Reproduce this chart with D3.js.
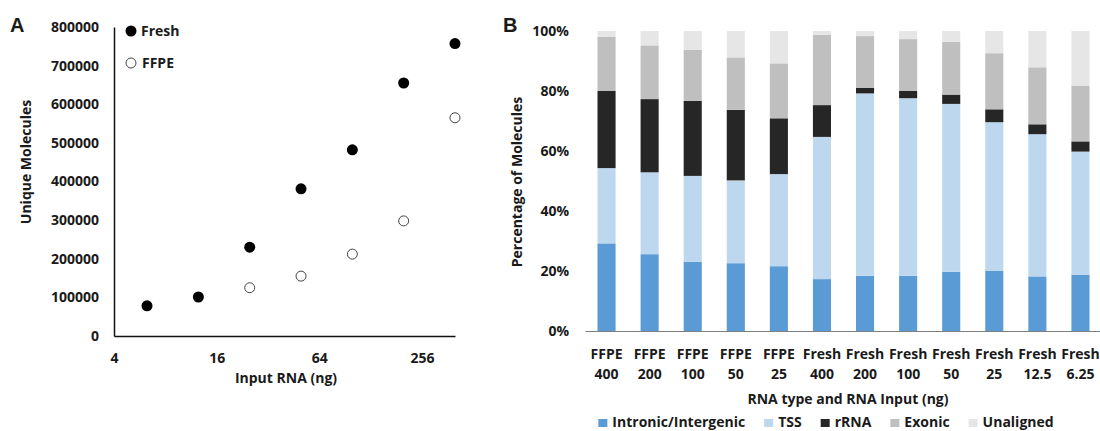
<!DOCTYPE html>
<html>
<head>
<meta charset="utf-8">
<script src="https://cdn.jsdelivr.net/npm/d3@7"></script>
<style>
  body { margin: 0; background: #fff; }
  svg text { font-family: "Open Sans", Lato, sans-serif; font-weight: bold; fill: #1a1a1a; }
</style>
</head>
<body>
<script>
// panel A - unique molecules vs input RNA
const freshInput = [6.25, 12.5, 25, 50, 100, 200, 400];
const freshMolecules = [78000, 101000, 230000, 381000, 482000, 655000, 757000];
const ffpeInput = [25, 50, 100, 200, 400];
const ffpeMolecules = [125000, 155000, 212000, 298000, 565000];
const xTicksA = [4, 16, 64, 256];
const yTicksA = [0, 100000, 200000, 300000, 400000, 500000, 600000, 700000, 800000];

// panel B - composition of molecules (%)
const sampleType = ["FFPE", "FFPE", "FFPE", "FFPE", "FFPE", "Fresh", "Fresh", "Fresh", "Fresh", "Fresh", "Fresh", "Fresh"];
const sampleInput = ["400", "200", "100", "50", "25", "400", "200", "100", "50", "25", "12.5", "6.25"];
const categories = ["Intronic/Intergenic", "TSS", "rRNA", "Exonic", "Unaligned"];
const intronic = [29.2, 25.6, 23.1, 22.6, 21.6, 17.3, 18.4, 18.4, 19.7, 20.0, 18.2, 18.8];
const tss = [25.1, 27.3, 28.6, 27.6, 30.7, 47.4, 60.8, 59.2, 56.0, 49.6, 47.4, 41.0];
const rrna = [25.7, 24.4, 25.0, 23.5, 18.6, 10.6, 1.9, 2.4, 3.1, 4.3, 3.3, 3.4];
const exonic = [18.0, 17.9, 17.0, 17.5, 18.3, 23.4, 17.2, 17.3, 17.6, 18.7, 19.0, 18.6];
const unaligned = [2.0, 4.8, 6.3, 8.8, 10.8, 1.3, 1.7, 2.7, 3.6, 7.4, 12.1, 18.2];
const yTicksB = [0, 20, 40, 60, 80, 100];
const colors = ["#5b9bd5", "#bdd7ee", "#262626", "#bfbfbf", "#e7e6e6"];

const svg = d3.select("body").append("svg")
  .attr("width", 1100).attr("height", 431);

// ---------- A ----------
const gA = svg.append("g");
const xA = d3.scaleLog().base(2).domain([4, 400]).range([114, 455]);
const yA = d3.scaleLinear().domain([0, 800000]).range([336, 27]);

const axLeftA = gA.append("g").attr("transform", "translate(114,0)")
  .call(d3.axisLeft(yA).tickValues(yTicksA).tickFormat(d3.format("d")).tickSize(0).tickSizeOuter(0).tickPadding(15));
const axBotA = gA.append("g").attr("transform", "translate(0,336)")
  .call(d3.axisBottom(xA).tickValues(xTicksA).tickFormat(d3.format("d")).tickSize(0).tickSizeOuter(0).tickPadding(17));
[axLeftA, axBotA].forEach(a => {
  a.select(".domain").attr("stroke", "#111").attr("stroke-width", 1.5);
  a.selectAll("text").attr("font-size", 14).attr("font-family", null);
});

gA.selectAll("circle.fresh").data(freshInput).enter().append("circle")
  .attr("class", "fresh")
  .attr("cx", d => xA(d))
  .attr("cy", (d, i) => yA(freshMolecules[i]))
  .attr("r", 5.5).attr("fill", "#000");
gA.selectAll("circle.ffpe").data(ffpeInput).enter().append("circle")
  .attr("class", "ffpe")
  .attr("cx", d => xA(d))
  .attr("cy", (d, i) => yA(ffpeMolecules[i]))
  .attr("r", 5).attr("fill", "#fff").attr("stroke", "#444").attr("stroke-width", 1);

// legend A
gA.append("circle").attr("cx", 131).attr("cy", 31).attr("r", 5.5).attr("fill", "#000");
gA.append("text").attr("x", 141).attr("y", 36).attr("font-size", 14).text("Fresh");
gA.append("circle").attr("cx", 131).attr("cy", 63).attr("r", 5).attr("fill", "#fff").attr("stroke", "#444");
gA.append("text").attr("x", 142).attr("y", 68).attr("font-size", 14).text("FFPE");

gA.append("text").attr("transform", "translate(31,162) rotate(-90)")
  .attr("text-anchor", "middle").attr("font-size", 14).text("Unique Molecules");
gA.append("text").attr("x", 286).attr("y", 383).attr("text-anchor", "middle")
  .attr("font-size", 14).text("Input RNA (ng)");
gA.append("text").attr("x", 10).attr("y", 32).attr("font-size", 20)
  .style("font-family", "'Liberation Sans', Arial, sans-serif").text("A");

// ---------- B ----------
const gB = svg.append("g");
const idx = d3.range(sampleInput.length);
const xB = d3.scaleBand().domain(idx).range([585, 1102]).paddingInner(0.58).paddingOuter(0.29);
const yB = d3.scaleLinear().domain([0, 100]).range([331, 31]);

const series = [intronic, tss, rrna, exonic, unaligned];
const rows = idx.map(i => {
  const r = { i };
  categories.forEach((c, k) => r[c] = series[k][i]);
  return r;
});
const stacked = d3.stack().keys(categories)(rows);

gB.selectAll("g.layer").data(stacked).enter().append("g")
  .attr("class", "layer")
  .attr("fill", (d, k) => colors[k])
  .selectAll("rect").data(d => d).enter().append("rect")
  .attr("x", d => xB(d.data.i))
  .attr("width", xB.bandwidth())
  .attr("y", d => yB(d[1]))
  .attr("height", d => yB(d[0]) - yB(d[1]));

const axLeftB = gB.append("g").attr("transform", "translate(585,0)")
  .call(d3.axisLeft(yB).tickValues(yTicksB).tickFormat(d => d + "%").tickSize(0).tickPadding(16));
axLeftB.select(".domain").remove();
axLeftB.selectAll("text").attr("font-size", 14).attr("font-family", null);

const axBotB = gB.append("g").attr("transform", "translate(0,331)")
  .call(d3.axisBottom(xB).tickSize(0).tickSizeOuter(0).tickFormat(""));
axBotB.select(".domain").attr("stroke", "#7f7f7f").attr("stroke-width", 1.2);
axBotB.selectAll(".tick text").each(function(i) {
  const t = d3.select(this).attr("font-size", 14).attr("font-family", null).attr("dy", null).attr("y", 0);
  t.append("tspan").attr("x", 0).attr("y", 28).text(sampleType[i]);
  t.append("tspan").attr("x", 0).attr("y", 48).text(sampleInput[i]);
});

gB.append("text").attr("transform", "translate(522,182) rotate(-90)")
  .attr("text-anchor", "middle").attr("font-size", 14).text("Percentage of Molecules");
gB.append("text").attr("x", 848).attr("y", 404).attr("text-anchor", "middle")
  .attr("font-size", 14).text("RNA type and RNA Input (ng)");
gB.append("text").attr("x", 503).attr("y", 32).attr("font-size", 20)
  .style("font-family", "'Liberation Sans', Arial, sans-serif").text("B");

// legend B - flow layout, centred under the plot
const leg = gB.append("g").attr("transform", "translate(0,427)");
let lx = 0;
categories.forEach((c, k) => {
  const item = leg.append("g").attr("transform", `translate(${lx},0)`);
  item.append("rect").attr("x", 0).attr("y", -8).attr("width", 9).attr("height", 8).attr("fill", colors[k]);
  const t = item.append("text").attr("x", 14).attr("y", 0).attr("font-size", 14).text(c);
  lx += 14 + t.node().getComputedTextLength() + 19;
});
leg.attr("transform", `translate(${826 - (lx - 19) / 2},427)`);
</script>
</body>
</html>
